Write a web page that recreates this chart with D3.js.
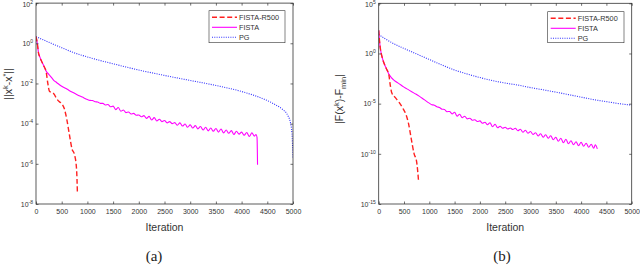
<!DOCTYPE html>
<html>
<head>
<meta charset="utf-8">
<script src="https://cdn.jsdelivr.net/npm/d3@7"></script>
<style>
  body { margin: 0; background: #fff; }
  svg { display: block; font-family: "Liberation Sans", Arial, sans-serif; }
</style>
</head>
<body>
<svg id="chart" width="640" height="265"></svg>
<script>
// series names (legend order)
const seriesNames = ["FISTA-R500", "FISTA", "PG"];
const xTicks = [0, 500, 1000, 1500, 2000, 2500, 3000, 3500, 4000, 4500, 5000];

// ---- panel (a): ||x^k - x^*||, values stored as log10 exponents ----
const aExpTicks = [2, 0, -2, -4, -6, -8];

const aR500Iter = [0, 25, 50, 75, 100, 150, 200, 230, 260, 300, 350, 400, 450, 500, 550, 600, 650, 700, 750, 790, 805];
const aR500Exp  = [0.33, 0.0, -0.5, -0.68, -0.85, -1.12, -1.45, -2.0, -2.38, -2.45, -2.52, -2.75, -2.9, -3.0, -3.25, -3.8, -4.55, -5.25, -5.55, -6.3, -7.4];

const aFistaIter = [0, 25, 50, 75, 100, 150, 200, 250, 300, 350, 400, 450, 500, 600, 700, 800, 900,
  1000, 1050, 1100, 1150, 1200, 1250, 1300, 1350, 1400, 1450, 1500, 1550, 1600, 1650, 1700, 1750, 1800, 1850, 1900, 1950,
  2000, 2050, 2100, 2150, 2200, 2250, 2300, 2350, 2400, 2450, 2500, 2550, 2600, 2650, 2700, 2750, 2800, 2850, 2900, 2950,
  3000, 3050, 3100, 3150, 3200, 3250, 3300, 3350, 3400, 3450, 3500, 3550, 3600, 3650, 3700, 3750, 3800, 3850, 3900, 3950,
  4000, 4050, 4100, 4150, 4200, 4250, 4280, 4300, 4310];
const aFistaExp = [0.33, 0.0, -0.5, -0.68, -0.85, -1.12, -1.4, -1.55, -1.7, -1.86, -1.95, -2.05, -2.14, -2.28, -2.43, -2.56, -2.68,
  -2.8, -2.84, -2.85, -2.91, -2.92, -2.99, -2.99, -3.07, -3.05, -3.16, -3.13, -3.3, -3.2, -3.38, -3.32, -3.45, -3.42, -3.52, -3.49, -3.58,
  -3.57, -3.66, -3.6, -3.74, -3.64, -3.82, -3.7, -3.87, -3.78, -3.9, -3.84, -3.96, -3.9, -4.0, -3.95, -4.08, -3.96, -4.12,
  -4.02, -4.18, -4.06, -4.22, -4.1, -4.26, -4.14, -4.32, -4.18, -4.36, -4.22, -4.38, -4.24, -4.42, -4.27, -4.46, -4.32, -4.48,
  -4.35, -4.54, -4.38, -4.52, -4.42, -4.58, -4.44, -4.64, -4.46, -4.62, -4.54, -4.68, -6.05];

const aPgIter = [0, 250, 500, 750, 1000, 1250, 1500, 1750, 2000, 2500, 3000, 3500, 4000, 4250, 4500, 4650, 4800, 4900, 4950, 4980, 5000];
const aPgExp  = [0.33, 0.05, -0.22, -0.48, -0.68, -0.86, -1.02, -1.18, -1.33, -1.6, -1.85, -2.1, -2.4, -2.6, -2.85, -3.05, -3.3, -3.6, -3.95, -4.5, -5.7];

// ---- panel (b): |F(x^k) - F_min| ----
const bExpTicks = [5, 0, -5, -10, -15];

const bR500Iter = [0, 25, 50, 75, 100, 150, 200, 230, 260, 320, 400, 470, 540, 590, 640, 700, 750, 790];
const bR500Exp  = [2.3, 0.8, 0.0, -0.5, -0.9, -1.5, -2.1, -3.2, -3.95, -4.35, -4.85, -5.4, -6.1, -7.0, -8.4, -10.0, -10.8, -12.85];

const bFistaIter = [0, 25, 50, 75, 100, 150, 200, 250, 300, 400, 500, 600, 700, 800, 900,
  1000, 1050, 1100, 1150, 1200, 1250, 1300, 1350, 1400, 1450, 1500, 1550, 1600, 1650, 1700, 1750, 1800, 1850, 1900, 1950,
  2000, 2050, 2100, 2150, 2200, 2250, 2300, 2350, 2400, 2450, 2500, 2550, 2600, 2650, 2700, 2750, 2800, 2850, 2900, 2950,
  3000, 3050, 3100, 3150, 3200, 3250, 3300, 3350, 3400, 3450, 3500, 3550, 3600, 3650, 3700, 3750, 3800, 3850, 3900, 3950,
  4000, 4050, 4100, 4150, 4200, 4250, 4280, 4320];
const bFistaExp = [2.3, 0.8, 0.0, -0.5, -0.9, -1.5, -2.05, -2.4, -2.65, -3.0, -3.35, -3.65, -3.95, -4.25, -4.6,
  -4.95, -5.1, -5.15, -5.32, -5.38, -5.55, -5.58, -5.8, -5.78, -6.02, -5.85, -6.25, -6.05, -6.4, -6.25, -6.52, -6.45, -6.65, -6.6, -6.78,
  -6.72, -6.95, -6.85, -7.1, -6.9, -7.3, -7.05, -7.4, -7.25, -7.45, -7.35, -7.52, -7.42, -7.58, -7.45, -7.7, -7.55, -7.85, -7.65, -7.95,
  -7.78, -8.08, -7.9, -8.22, -8.0, -8.35, -8.1, -8.45, -8.2, -8.6, -8.35, -8.75, -8.45, -8.9, -8.55, -9.0, -8.7, -9.1, -8.8, -9.2,
  -8.85, -9.25, -8.95, -9.35, -9.05, -9.45, -9.1, -9.5];

const bPgIter = [0, 100, 250, 500, 750, 1000, 1250, 1500, 1750, 2000, 2250, 2500, 2750, 3000, 3250, 3500, 3750, 4000, 4250, 4500, 4750, 5000];
const bPgExp  = [1.9, 1.55, 1.1, 0.5, -0.05, -0.6, -1.15, -1.65, -2.05, -2.4, -2.7, -2.95, -3.15, -3.4, -3.62, -3.85, -4.1, -4.35, -4.6, -4.8, -5.0, -5.15];

const colors = ["#ff2020", "#ff00ff", "#3030ff"];
const dashes = ["5,2.6", null, "1,1.3"];
const widths = [1.4, 1.1, 1.1];
const axisColor = "#333";

const svg = d3.select("#chart");

function pairs(iters, exps) {
  return iters.map((it, i) => [it, Math.pow(10, exps[i])]);
}

function drawPanel(p) {
  const x = d3.scaleLinear().domain([0, 5000]).range([p.left, p.right]);
  const y = d3.scaleLog()
    .domain([Math.pow(10, d3.min(p.expTicks)), Math.pow(10, d3.max(p.expTicks))])
    .range([p.bottom, p.top]);
  const g = svg.append("g");

  const line = d3.line().x(d => x(d[0])).y(d => y(d[1])).curve(d3.curveMonotoneX);
  const clip = "clip" + p.id;
  g.append("clipPath").attr("id", clip).append("rect")
    .attr("x", p.left).attr("y", p.top).attr("width", p.right - p.left).attr("height", p.bottom - p.top);

  // draw PG first, then FISTA, then R500 on top
  [2, 1, 0].forEach(k => {
    g.append("path")
      .datum(p.series[k])
      .attr("clip-path", "url(#" + clip + ")")
      .attr("fill", "none")
      .attr("stroke", colors[k])
      .attr("stroke-width", widths[k])
      .attr("stroke-dasharray", dashes[k])
      .attr("d", line);
  });

  // axes (MATLAB box, ticks inward)
  const yVals = p.expTicks.map(e => Math.pow(10, e));
  const bottom = g.append("g").attr("transform", "translate(0," + p.bottom + ")")
    .call(d3.axisBottom(x).tickValues(xTicks).tickFormat(d3.format("d"))
      .tickSizeInner(-2.5).tickSizeOuter(0).tickPadding(5));
  g.append("g").attr("transform", "translate(0," + p.top + ")")
    .call(d3.axisTop(x).tickValues(xTicks).tickSizeInner(-2.5).tickSizeOuter(0).tickFormat(""));
  const left = g.append("g").attr("transform", "translate(" + p.left + ",0)")
    .call(d3.axisLeft(y).tickValues(yVals).tickSizeInner(-2.5).tickSizeOuter(0).tickPadding(3));
  g.append("g").attr("transform", "translate(" + p.right + ",0)")
    .call(d3.axisRight(y).tickValues(yVals).tickSizeInner(-2.5).tickSizeOuter(0).tickFormat(""));

  g.selectAll(".domain").remove();
  g.selectAll(".tick line").attr("stroke", axisColor).attr("stroke-width", 0.7);
  bottom.selectAll("text").attr("font-size", 7).attr("fill", axisColor).attr("font-family", "Liberation Sans, Arial");

  left.selectAll("text").each(function (d, i) {
    const t = d3.select(this).text("")
      .attr("font-size", 7).attr("fill", axisColor).attr("font-family", "Liberation Sans, Arial")
      .attr("dy", i === 0 ? "0.5em" : "0.32em");
    t.append("tspan").text("10");
    t.append("tspan").attr("dy", -3).attr("font-size", 5).text(String(p.expTicks[i]));
  });

  g.append("rect")
    .attr("x", p.left).attr("y", p.top)
    .attr("width", p.right - p.left).attr("height", p.bottom - p.top)
    .attr("fill", "none").attr("stroke", axisColor).attr("stroke-width", 0.8);

  // x label
  g.append("text")
    .attr("x", (p.left + p.right) / 2).attr("y", 231)
    .attr("text-anchor", "middle").attr("font-size", 10.5).attr("fill", axisColor)
    .text("Iteration");

  // y label
  const yl = g.append("text")
    .attr("transform", "translate(" + p.ylabelX + "," + p.ylabelY + ") rotate(-90)")
    .attr("text-anchor", "middle").attr("font-size", 10.5).attr("fill", axisColor);
  p.ylabel.forEach(part => {
    const ts = yl.append("tspan").text(part.t);
    if (part.s === "sup") ts.attr("dy", -4).attr("font-size", 7.5);
    if (part.s === "sub") ts.attr("dy", 3).attr("font-size", 7.5);
    if (part.s === "back") ts.attr("dy", 4);
    if (part.s === "backsub") ts.attr("dy", -3);
  });

  // legend
  const lg = g.append("g");
  lg.append("rect")
    .attr("x", p.legend[0]).attr("y", p.legend[1])
    .attr("width", p.legend[2]).attr("height", p.legend[3])
    .attr("fill", "#fff").attr("stroke", axisColor).attr("stroke-width", 0.6);
  seriesNames.forEach((name, k) => {
    const ly = p.legend[1] + 6.6 + k * 10;
    lg.append("line")
      .attr("x1", p.legend[0] + 3).attr("x2", p.legend[0] + 28)
      .attr("y1", ly).attr("y2", ly)
      .attr("stroke", colors[k]).attr("stroke-width", widths[k])
      .attr("stroke-dasharray", dashes[k]);
    lg.append("text")
      .attr("x", p.legend[0] + 30).attr("y", ly + 2.5)
      .attr("font-size", 7.3).attr("fill", axisColor)
      .text(name);
  });

  // caption
  g.append("text")
    .attr("x", p.captionX).attr("y", 261)
    .attr("text-anchor", "middle")
    .attr("font-family", "Liberation Serif, DejaVu Serif, serif")
    .attr("font-size", 15).attr("fill", "#222")
    .text(p.caption);
}

drawPanel({
  id: "a", left: 36, right: 293, top: 3.1, bottom: 204,
  expTicks: aExpTicks,
  series: [pairs(aR500Iter, aR500Exp), pairs(aFistaIter, aFistaExp), pairs(aPgIter, aPgExp)],
  ylabelX: 12, ylabelY: 84,
  ylabel: [{t: "||x"}, {t: "k", s: "sup"}, {t: "-x", s: "back"}, {t: "*", s: "sup"}, {t: "||", s: "back"}],
  legend: [209, 10.7, 76, 32],
  caption: "(a)", captionX: 154
});

drawPanel({
  id: "b", left: 378.7, right: 631.7, top: 3.3, bottom: 204,
  expTicks: bExpTicks,
  series: [pairs(bR500Iter, bR500Exp), pairs(bFistaIter, bFistaExp), pairs(bPgIter, bPgExp)],
  ylabelX: 343, ylabelY: 99,
  ylabel: [{t: "|F(x"}, {t: "k", s: "sup"}, {t: ")-F", s: "back"}, {t: "min", s: "sub"}, {t: "|", s: "backsub"}],
  legend: [547.7, 11.7, 76.3, 31],
  caption: "(b)", captionX: 502
});
</script>
</body>
</html>
